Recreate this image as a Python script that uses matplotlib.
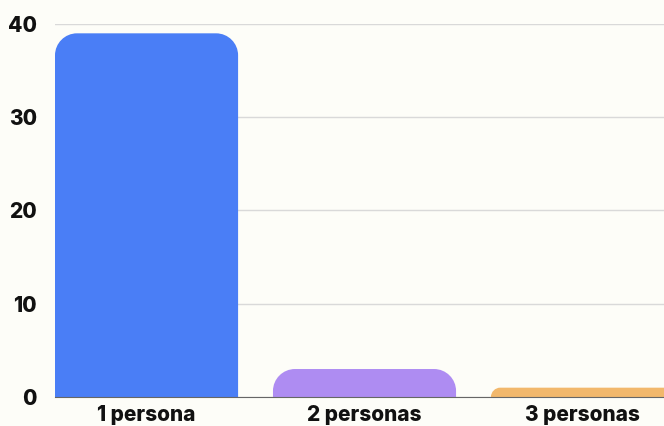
import matplotlib.pyplot as plt
from matplotlib.path import Path
from matplotlib.patches import PathPatch

categories = ["1 persona", "2 personas", "3 personas"]
values = [39, 3, 1]
colors = ["#4a7ef6", "#ae8cf2", "#f2b86c"]

plt.rcParams['font.family'] = ['Inter', 'DejaVu Sans']

fig = plt.figure(figsize=(6.64, 4.26), dpi=100, facecolor="#fdfdf8")
ax = fig.add_axes([55 / 664, 1 - 397 / 426, 609 / 664, 373 / 426])
ax.set_facecolor("#fdfdf8")

width = 0.84
ax.set_xlim(-0.42, 2.374)
ax.set_ylim(0, 40)

# pixels per data unit
px_x = 609 / (2.374 + 0.42)
px_y = 373 / 40


def rounded_bar(x, h, color):
    x0, x1 = x - width / 2, x + width / 2
    r_px = min(22, h * px_y)
    rx, ry = r_px / px_x, r_px / px_y
    k = 0.5523
    verts = [(x0, 0), (x0, h - ry),
             (x0, h - ry + k * ry), (x0 + rx - k * rx, h), (x0 + rx, h),
             (x1 - rx, h),
             (x1 - rx + k * rx, h), (x1, h - ry + k * ry), (x1, h - ry),
             (x1, 0), (x0, 0)]
    codes = [Path.MOVETO, Path.LINETO,
             Path.CURVE4, Path.CURVE4, Path.CURVE4,
             Path.LINETO,
             Path.CURVE4, Path.CURVE4, Path.CURVE4,
             Path.LINETO, Path.CLOSEPOLY]
    ax.add_patch(PathPatch(Path(verts, codes), facecolor=color, edgecolor="none", zorder=3))


for i, v in enumerate(values):
    rounded_bar(i, v, colors[i])

ax.set_yticks([0, 10, 20, 30, 40])
ax.yaxis.grid(True, color="#d9d9d9", linewidth=1)
ax.set_axisbelow(True)
for s in ["top", "right", "left"]:
    ax.spines[s].set_visible(False)
ax.spines["bottom"].set_color("#666666")
ax.spines["bottom"].set_zorder(4)

ax.set_xticks(range(len(categories)))
ax.set_xticklabels(categories)
ax.tick_params(axis="both", length=0, labelsize=15)
ax.tick_params(axis="y", pad=13)
ax.tick_params(axis="x", pad=6)
for lbl in ax.get_xticklabels() + ax.get_yticklabels():
    lbl.set_fontweight("heavy")
    lbl.set_color("#111111")

fig.savefig("out.png", dpi=100, facecolor=fig.get_facecolor())
